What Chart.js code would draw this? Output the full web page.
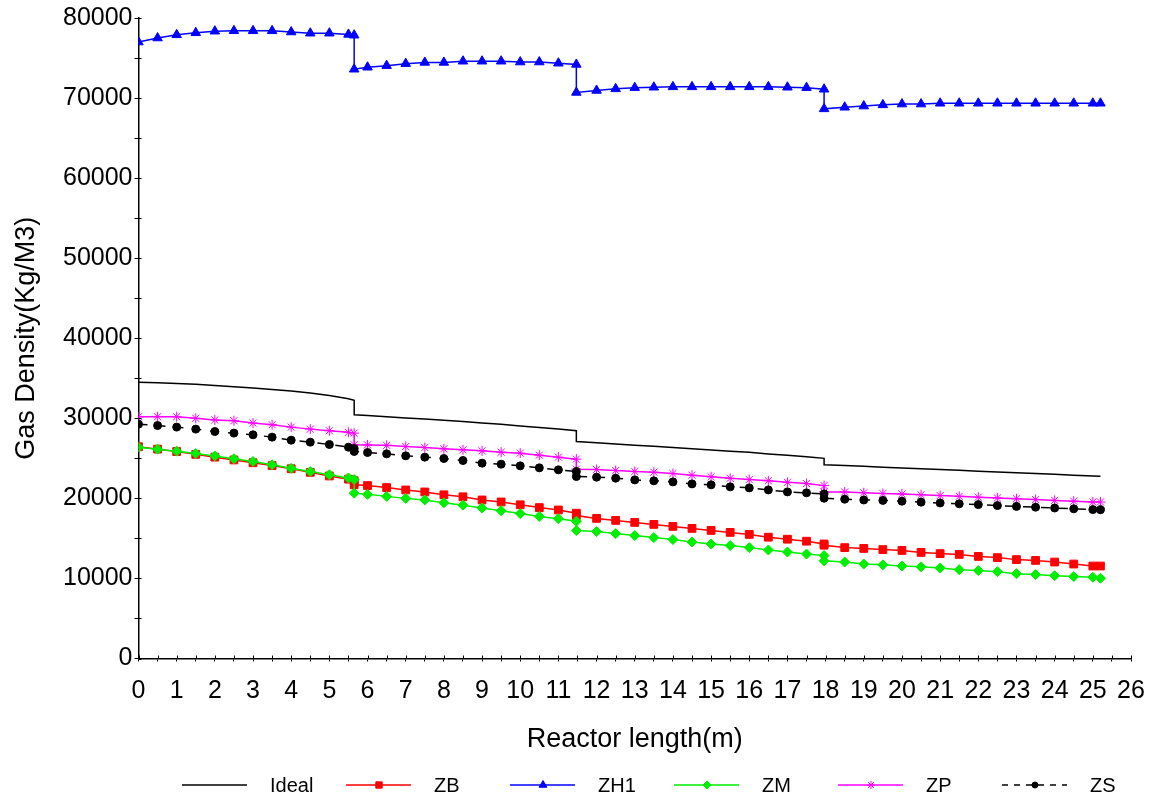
<!DOCTYPE html>
<html>
<head>
<meta charset="utf-8">
<script src="https://cdn.jsdelivr.net/npm/chart.js@4.4.0/dist/chart.umd.min.js"></script>
<style>
  html, body { margin: 0; padding: 0; background: #fff; }
</style>
</head>
<body>
<canvas id="myChart" width="1153" height="802"></canvas>
<script>
// reactor length (m); section boundaries appear twice (value before / after the step)
const xs = [
  0, 0.5, 1, 1.5, 2, 2.5, 3, 3.5, 4, 4.5, 5, 5.5, 5.65,
  5.65, 6, 6.5, 7, 7.5, 8, 8.5, 9, 9.5, 10, 10.5, 11, 11.47,
  11.47, 12, 12.5, 13, 13.5, 14, 14.5, 15, 15.5, 16, 16.5, 17, 17.5, 17.96,
  17.96, 18.5, 19, 19.5, 20, 20.5, 21, 21.5, 22, 22.5, 23, 23.5, 24, 24.5, 25, 25.2
];

const ideal = [
  34500, 34450, 34350, 34250, 34100, 33950, 33800, 33600, 33400, 33150, 32850, 32450, 32250,
  30450, 30350, 30200, 30050, 29900, 29750, 29600, 29400, 29250, 29050, 28850, 28650, 28450,
  27100, 26950, 26800, 26650, 26500, 26350, 26200, 26050, 25900, 25750, 25550, 25400, 25200, 25000,
  24200, 24100, 24000, 23900, 23800, 23700, 23600, 23500, 23400, 23300, 23200, 23100, 23000, 22900, 22800, 22750
];
const zb = [
  26450, 26150, 25850, 25500, 25150, 24800, 24450, 24100, 23700, 23250, 22800, 22400, 22200,
  21700, 21600, 21350, 21050, 20800, 20450, 20200, 19800, 19550, 19200, 18850, 18550, 18150,
  17850, 17500, 17250, 17000, 16750, 16500, 16250, 16000, 15750, 15500, 15150, 14900, 14650, 14300,
  14150, 13850, 13750, 13600, 13500, 13250, 13100, 13000, 12750, 12600, 12350, 12250, 12050, 11800, 11550, 11550
];
const zh1 = [
  77000, 77500, 77900, 78150, 78350, 78400, 78400, 78400, 78250, 78100, 78100, 77950, 77850,
  73600, 73850, 74050, 74300, 74450, 74450, 74600, 74600, 74600, 74500, 74500, 74350, 74200,
  70700, 70950, 71150, 71300, 71350, 71400, 71400, 71400, 71400, 71400, 71400, 71350, 71300, 71100,
  68650, 68850, 69000, 69150, 69250, 69250, 69350, 69350, 69350, 69350, 69350, 69350, 69350, 69350, 69350, 69350
];
const zm = [
  26400, 26150, 25900, 25600, 25300, 24950, 24600, 24200, 23750, 23350, 22950, 22550, 22350,
  20650, 20500, 20250, 20000, 19800, 19450, 19150, 18800, 18450, 18100, 17750, 17450, 17150,
  15980, 15850, 15600, 15350, 15100, 14850, 14550, 14300, 14100, 13850, 13550, 13300, 13050, 12850,
  12200, 12050, 11800, 11700, 11550, 11450, 11300, 11100, 10980, 10850, 10600, 10480, 10350, 10230, 10150, 10020
];
const zp = [
  30200, 30200, 30200, 30000, 29800, 29700, 29400, 29200, 28900, 28650, 28450, 28250, 28150,
  26700, 26680, 26620, 26480, 26350, 26190, 26060, 25940, 25770, 25650, 25400, 25150, 24900,
  23650, 23600, 23480, 23350, 23270, 23100, 22900, 22700, 22500, 22350, 22200, 22000, 21850, 21600,
  20800, 20800, 20700, 20600, 20550, 20450, 20350, 20250, 20150, 20050, 19950, 19850, 19750, 19650, 19550, 19550
];
const zs = [
  29270, 29100, 28900, 28650, 28350, 28150, 27940, 27650, 27270, 27020, 26730, 26400, 26230,
  25860, 25730, 25560, 25310, 25150, 24980, 24730, 24400, 24270, 24060, 23810, 23560, 23350,
  22730, 22650, 22520, 22310, 22190, 22060, 21810, 21690, 21440, 21310, 21060, 20810, 20690, 20560,
  20020, 19900, 19800, 19750, 19650, 19530, 19430, 19320, 19220, 19100, 19000, 18900, 18800, 18700, 18600, 18580
];

const seriesNames = ['Ideal', 'ZB', 'ZH1', 'ZM', 'ZP', 'ZS'];
const xTicksMax = 26;
const yTicksMax = 80000;

const FONT = 'Liberation Sans, Arial, sans-serif';
const pts = arr => xs.map((x, i) => ({ x: x, y: arr[i] }));

const lineSet = (label, arr, color, style, radius, order, dash) => ({
  label: label,
  data: pts(arr),
  borderColor: color,
  backgroundColor: color,
  borderWidth: 1.5,
  borderDash: dash || [],
  pointStyle: style,
  pointRadius: radius,
  pointBorderWidth: 1,
  pointBorderColor: color,
  pointBackgroundColor: color,
  tension: 0,
  order: order
});

// simple fixed-column legend under the x axis title
const bottomLegend = {
  id: 'bottomLegend',
  afterDraw(chart) {
    const ctx = chart.ctx;
    const y = 785;
    ctx.save();
    chart.data.datasets.forEach((ds, i) => {
      const x0 = 182 + 164 * i;
      ctx.strokeStyle = ds.borderColor;
      ctx.lineWidth = 1.5;
      ctx.setLineDash(ds.borderDash.length ? [6, 6] : []);
      ctx.beginPath();
      ctx.moveTo(x0, y);
      ctx.lineTo(x0 + 65, y);
      ctx.stroke();
      ctx.setLineDash([]);
      if (ds.pointRadius > 0) {
        ctx.fillStyle = ds.pointBackgroundColor;
        ctx.strokeStyle = ds.pointBorderColor;
        ctx.lineWidth = 1;
        Chart.helpers.drawPoint(ctx, { pointStyle: ds.pointStyle, radius: ds.pointRadius - 1, borderWidth: 1, rotation: 0 }, x0 + 33, y);
      }
      ctx.fillStyle = '#000';
      ctx.font = '20px ' + FONT;
      ctx.textBaseline = 'middle';
      ctx.textAlign = 'left';
      ctx.fillText(ds.label, x0 + 88, y + 1);
    });
    ctx.restore();
  }
};

// tick marks that also reach a little inside both axes
const innerTicks = {
  id: 'innerTicks',
  afterDraw(chart) {
    const { ctx, chartArea } = chart;
    const sx = chart.scales.x;
    const sy = chart.scales.y;
    ctx.save();
    ctx.strokeStyle = '#000';
    ctx.lineWidth = 1;
    sx.ticks.forEach(t => {
      const px = Math.round(sx.getPixelForValue(t.value)) + 0.5;
      ctx.beginPath();
      ctx.moveTo(px, chartArea.bottom);
      ctx.lineTo(px, chartArea.bottom - 3);
      ctx.stroke();
    });
    sy.ticks.forEach(t => {
      const py = Math.round(sy.getPixelForValue(t.value)) + 0.5;
      ctx.beginPath();
      ctx.moveTo(chartArea.left, py);
      ctx.lineTo(chartArea.left + 3, py);
      ctx.stroke();
    });
    ctx.restore();
  }
};

new Chart(document.getElementById('myChart'), {
  type: 'line',
  data: {
    datasets: [
      lineSet(seriesNames[0], ideal, '#000000', 'circle', 0, 6),
      lineSet(seriesNames[1], zb, '#ff0000', 'rect', 5.5, 5),
      lineSet(seriesNames[2], zh1, '#0000ff', 'triangle', 5.5, 4),
      lineSet(seriesNames[3], zm, '#00ee00', 'rectRot', 5, 3),
      lineSet(seriesNames[4], zp, '#ff00ff', 'star', 5, 2),
      lineSet(seriesNames[5], zs, '#000000', 'circle', 4, 1, [9, 9])
    ]
  },
  options: {
    responsive: false,
    animation: false,
    layout: { padding: { top: 18, right: 22, bottom: 43.5, left: 0 } },
    plugins: {
      legend: { display: false },
      tooltip: { enabled: false }
    },
    scales: {
      x: {
        type: 'linear',
        min: 0,
        max: xTicksMax,
        afterFit: s => { s.height = 100; s.paddingLeft = 0; s.paddingRight = 0; },
        border: { color: '#000', width: 1.5 },
        grid: { drawOnChartArea: false, tickLength: 3, color: '#000', lineWidth: 1 },
        ticks: {
          stepSize: 0.5,
          autoSkip: false,
          maxRotation: 0,
          padding: 15,
          color: '#000',
          font: { family: FONT, size: 25 },
          callback: v => Number.isInteger(v) ? String(v) : ''
        },
        title: {
          display: true,
          text: 'Reactor length(m)',
          color: '#000',
          font: { family: FONT, size: 27 },
          padding: { top: 0, bottom: 3 }
        }
      },
      y: {
        min: 0,
        max: yTicksMax,
        afterFit: s => { s.width = 138.5; s.paddingTop = 0; s.paddingBottom = 0; },
        border: { color: '#000', width: 1.5 },
        grid: { drawOnChartArea: false, tickLength: 4, color: '#000', lineWidth: 1 },
        ticks: {
          stepSize: 5000,
          padding: 2,
          color: '#000',
          font: { family: FONT, size: 25 },
          callback: v => v % 10000 === 0 ? String(v) : ''
        },
        title: {
          display: true,
          text: 'Gas Density(Kg/M3)',
          color: '#000',
          font: { family: FONT, size: 27 },
          padding: { top: 10, bottom: 0 }
        }
      }
    }
  },
  plugins: [bottomLegend, innerTicks]
});
</script>
</body>
</html>
